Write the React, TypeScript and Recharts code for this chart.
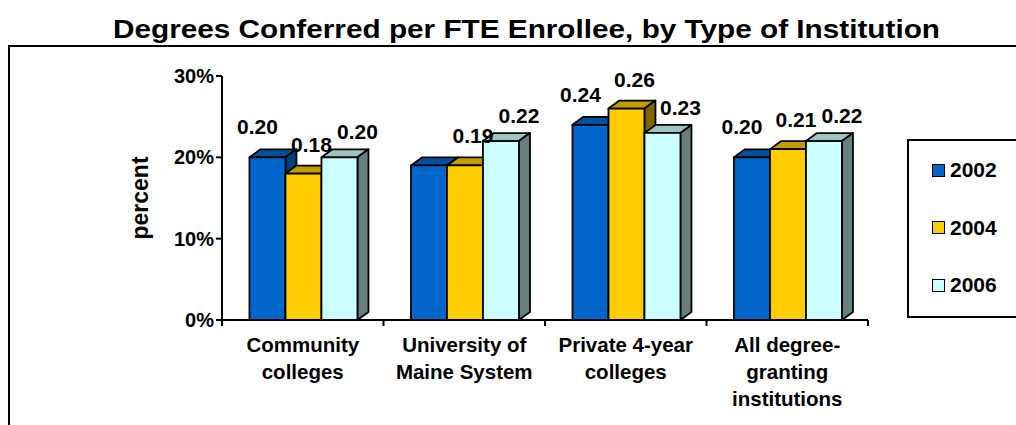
import { BarChart, Bar, XAxis, YAxis, LabelList } from 'recharts'

const categories = [
  'Community\ncolleges',
  'University of\nMaine System',
  'Private 4-year\ncolleges',
  'All degree-\ngranting\ninstitutions',
]
const years = ['2002', '2004', '2006']
const values2002 = [0.2, 0.19, 0.24, 0.2]
const values2004 = [0.18, 0.19, 0.26, 0.21]
const values2006 = [0.2, 0.22, 0.23, 0.22]
const yTicks = [0, 0.1, 0.2, 0.3]
// the original chart leaves out the 2002 label for this group (it would collide)
const hiddenLabels2002 = ['University of\nMaine System']

const data = categories.map((category, i) => ({
  category,
  y2002: values2002[i],
  y2004: values2004[i],
  y2006: values2006[i],
}))

const series = [
  { key: 'y2002', name: years[0], front: '#0066CC', top: '#00509F', side: '#003D7A', labelDx: -10, labelDy: 23 },
  { key: 'y2004', name: years[1], front: '#FFCC00', top: '#C49C00', side: '#806600', labelDx: 8, labelDy: 22 },
  { key: 'y2006', name: years[2], front: '#CCFFFF', top: '#9CC4C2', side: '#668080', labelDx: 18, labelDy: 18 },
]

const FONT = '"Liberation Sans", Arial, sans-serif'
const W = 1016
const H = 425
const PLOT_LEFT = 222
const PLOT_RIGHT = 868
const PLOT_W = PLOT_RIGHT - PLOT_LEFT

const DEPTH_X = 11
const DEPTH_Y = 8

function Box3D(props: any) {
  const { x, y, width, height, front, top, side } = props
  if (!height || height <= 0) return null
  const b = y + height
  return (
    <g stroke="#000" strokeWidth={1.8} strokeLinejoin="round">
      <polygon
        points={`${x},${y} ${x + DEPTH_X},${y - DEPTH_Y} ${x + width + DEPTH_X},${y - DEPTH_Y} ${x + width},${y}`}
        fill={top}
      />
      <polygon
        points={`${x + width},${y} ${x + width + DEPTH_X},${y - DEPTH_Y} ${x + width + DEPTH_X},${b - DEPTH_Y} ${x + width},${b}`}
        fill={side}
      />
      <rect x={x} y={y} width={width} height={height} fill={front} />
    </g>
  )
}

const makeLabel = (s: (typeof series)[number]) => (props: any) => {
  const { x, y, width, value, index } = props
  if (s.key === 'y2002' && hiddenLabels2002.includes(categories[index])) return null
  return (
    <text
      x={x + width / 2 + s.labelDx}
      y={y - s.labelDy}
      textAnchor="middle"
      fontFamily={FONT}
      fontSize={21}
      fontWeight="bold"
      fill="#000"
    >
      {Number(value).toFixed(2)}
    </text>
  )
}

function CategoryTick(props: any) {
  const { x, y, payload, index } = props
  const band = PLOT_W / categories.length
  const lines = String(payload.value).split('\n')
  return (
    <g>
      <line x1={x - band / 2} x2={x - band / 2} y1={y} y2={y + 6} stroke="#000" strokeWidth={2} />
      {index === categories.length - 1 && (
        <line x1={x + band / 2} x2={x + band / 2} y1={y} y2={y + 6} stroke="#000" strokeWidth={2} />
      )}
      <text x={x} y={y + 32} textAnchor="middle" fontFamily={FONT} fontSize={20.5} fontWeight="bold" fill="#000">
        {lines.map((l, i) => (
          <tspan key={i} x={x} dy={i === 0 ? 0 : 27}>
            {l}
          </tspan>
        ))}
      </text>
    </g>
  )
}

export default function App() {
  return (
    <div style={{ position: 'absolute', left: 0, top: 0, width: W, height: H, background: '#fff', overflow: 'hidden', fontFamily: FONT }}>
      <svg width={W} height={45} style={{ position: 'absolute', left: 0, top: 0 }}>
        <text
          x={526.5}
          y={38}
          textAnchor="middle"
          fontFamily={FONT}
          fontSize={25}
          fontWeight="bold"
          textLength={827}
          lengthAdjust="spacingAndGlyphs"
        >
          Degrees Conferred per FTE Enrollee, by Type of Institution
        </text>
      </svg>
      <div
        style={{
          position: 'absolute',
          left: 8,
          top: 45,
          width: 1100,
          height: 500,
          border: '2px solid #000',
        }}
      />
      <div style={{ position: 'absolute', left: 0, top: 0 }}>
        <BarChart
          width={W}
          height={H}
          data={data}
          margin={{ top: 76, right: W - PLOT_RIGHT, bottom: 0, left: 0 }}
          barCategoryGap="17%"
          barGap={0}
        >
          <YAxis
            width={PLOT_LEFT}
            domain={[0, 0.3]}
            ticks={yTicks}
            tickFormatter={(v: number) => `${Math.round(v * 100)}%`}
            tick={{ fill: '#000', fontSize: 20, fontWeight: 'bold', fontFamily: FONT }}
            tickSize={6}
            tickMargin={2}
            axisLine={{ stroke: '#000', strokeWidth: 2 }}
            tickLine={{ stroke: '#000', strokeWidth: 2 }}
            label={{
              value: 'percent',
              angle: -90,
              position: 'center',
              dx: 29,
              style: { fill: '#000', fontSize: 23, fontWeight: 'bold', fontFamily: FONT },
            }}
          />
          <XAxis
            dataKey="category"
            height={105}
            tickSize={0}
            tickMargin={0}
            tickLine={false}
            axisLine={{ stroke: '#000', strokeWidth: 2 }}
            tick={<CategoryTick />}
            interval={0}
          />
          {series.map((s) => (
            <Bar
              key={s.key}
              dataKey={s.key}
              name={s.name}
              isAnimationActive={false}
              shape={(p: any) => <Box3D {...p} front={s.front} top={s.top} side={s.side} />}
            >
              <LabelList dataKey={s.key} content={makeLabel(s)} />
            </Bar>
          ))}
        </BarChart>
      </div>
      <div
        style={{
          position: 'absolute',
          left: 907,
          top: 139,
          width: 130,
          height: 179,
          border: '2px solid #000',
          boxSizing: 'border-box',
        }}
      >
        {series.map((s, i) => (
          <div
            key={s.key}
            style={{
              position: 'absolute',
              left: 23,
              top: 17 + i * 57.5,
              display: 'flex',
              alignItems: 'center',
              height: 24,
            }}
          >
            <span
              style={{
                display: 'inline-block',
                width: 11,
                height: 11,
                background: s.front,
                border: '1.5px solid #000',
                marginRight: 5,
              }}
            />
            <span style={{ fontSize: 21, fontWeight: 'bold', color: '#000' }}>{s.name}</span>
          </div>
        ))}
      </div>
    </div>
  )
}
